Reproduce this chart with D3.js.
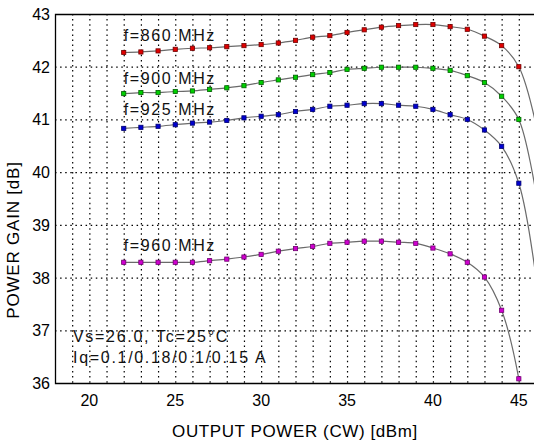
<!DOCTYPE html>
<html>
<head>
<meta charset="utf-8">
<script src="https://cdn.jsdelivr.net/npm/d3@7"></script>
<style>
    body { margin: 0; background: #fff; }
    svg { display: block; font-family: "Liberation Sans", Arial, Helvetica, sans-serif; }
</style>
</head>
<body>
<svg id="chart" width="534" height="443"></svg>
<script>
// output power points [dBm]
const outPower = [22, 23, 24, 25, 26, 27, 28, 29, 30, 31, 32, 33, 34, 35, 36, 37, 38, 39, 40, 41, 42, 43, 44, 45];

const freqLabels = ["f=860 MHz", "f=900 MHz", "f=925 MHz", "f=960 MHz"];

// power gain [dB], one list per frequency
const gain860 = [42.27, 42.28, 42.30, 42.33, 42.35, 42.36, 42.38, 42.40, 42.42, 42.45, 42.50, 42.56,
                 42.59, 42.65, 42.70, 42.75, 42.78, 42.80, 42.80, 42.76, 42.71, 42.58, 42.40, 42.00];
const gain900 = [41.49, 41.51, 41.51, 41.53, 41.54, 41.57, 41.60, 41.64, 41.70, 41.75, 41.80, 41.85,
                 41.89, 41.95, 41.97, 41.99, 41.99, 41.99, 41.97, 41.93, 41.83, 41.70, 41.44, 41.00];
const gain925 = [40.83, 40.85, 40.87, 40.90, 40.93, 40.95, 40.98, 41.03, 41.06, 41.09, 41.15, 41.19,
                 41.25, 41.27, 41.30, 41.30, 41.27, 41.25, 41.19, 41.09, 41.00, 40.80, 40.49, 39.79];
const gain960 = [38.29, 38.29, 38.29, 38.29, 38.29, 38.32, 38.35, 38.39, 38.44, 38.50, 38.55, 38.59,
                 38.65, 38.67, 38.69, 38.69, 38.67, 38.65, 38.56, 38.45, 38.29, 38.01, 37.38, 36.08];

// fitted curve keeps going past the last point, read where it leaves the frame
const tailPower = 46;
const tailGain = [40.9, 39.6, 38.0, 33.5];

const xTicks = [20, 25, 30, 35, 40, 45];
const yTicks = [36, 37, 38, 39, 40, 41, 42, 43];

const markerFill = ["#e00000", "#00d000", "#0000d0", "#d000d0"];
const markerEdge = ["#700000", "#006000", "#000070", "#700070"];

function drawChart() {
    const svg = d3.select("#chart");

    const x = d3.scaleLinear().domain([18, 46]).range([55, 536]);
    const y = d3.scaleLinear().domain([36, 43]).range([383, 14]);

    const series = [gain860, gain900, gain925, gain960].map((g, i) => ({
        label: freqLabels[i],
        pts: outPower.map((p, j) => [p, g[j]]),
        tail: [tailPower, tailGain[i]],
        fill: markerFill[i],
        edge: markerEdge[i]
    }));

    svg.append("clipPath").attr("id", "plotclip")
        .append("rect")
        .attr("x", x(18)).attr("y", y(43))
        .attr("width", x(46) - x(18)).attr("height", y(36) - y(43));

    // dotted grid, one line per dBm and per dB
    const grid = svg.append("g").attr("stroke", "#000").attr("stroke-width", 1.2)
        .attr("stroke-dasharray", "1.5,3.6");

    grid.selectAll(".vg")
        .data(d3.range(19, 46))
        .enter().append("line")
        .attr("x1", d => x(d) + 0.5).attr("x2", d => x(d) + 0.5)
        .attr("y1", y(43)).attr("y2", y(36));

    grid.selectAll(".hg")
        .data(d3.range(37, 43))
        .enter().append("line")
        .attr("x1", x(18)).attr("x2", x(46))
        .attr("y1", d => y(d) + 0.5).attr("y2", d => y(d) + 0.5);

    // frame
    svg.append("path")
        .attr("d", `M${x(46)},${y(43) + 0.5}H${x(18) + 0.5}V${y(36) + 0.5}H${x(46)}`)
        .attr("fill", "none").attr("stroke", "#000").attr("stroke-width", 1.3);

    const line = d3.line()
        .x(d => x(d[0]))
        .y(d => y(d[1]))
        .curve(d3.curveCatmullRom.alpha(0.5));

    const curves = svg.append("g").attr("clip-path", "url(#plotclip)");

    curves.selectAll("path")
        .data(series)
        .enter().append("path")
        .attr("d", d => line(d.pts.concat([d.tail])))
        .attr("fill", "none")
        .attr("stroke", "#6a6a6a")
        .attr("stroke-width", 1.2);

    const sz = 4.2;
    series.forEach(s => {
        curves.append("g").selectAll("rect")
            .data(s.pts)
            .enter().append("rect")
            .attr("x", d => x(d[0]) - sz / 2)
            .attr("y", d => y(d[1]) - sz / 2)
            .attr("width", sz).attr("height", sz)
            .attr("fill", s.fill)
            .attr("stroke", s.edge)
            .attr("stroke-width", 0.8);
    });

    // curve labels sit just above the first point
    const labelDy = [-11, -10, -13, -11];
    svg.append("g").selectAll("text")
        .data(series)
        .enter().append("text")
        .attr("x", d => x(d.pts[0][0]))
        .attr("y", (d, i) => y(d.pts[0][1]) + labelDy[i])
        .attr("font-size", 16)
        .attr("letter-spacing", 1.6)
        .attr("fill", "#111")
        .text(d => d.label);

    // tick labels
    svg.append("g").selectAll("text")
        .data(xTicks)
        .enter().append("text")
        .attr("x", d => x(d))
        .attr("y", 406)
        .attr("text-anchor", "middle")
        .attr("font-size", 16)
        .text(d => d);

    svg.append("g").selectAll("text")
        .data(yTicks)
        .enter().append("text")
        .attr("x", 50)
        .attr("y", d => y(d) + 6)
        .attr("text-anchor", "end")
        .attr("font-size", 16)
        .text(d => d);

    // axis titles
    svg.append("text")
        .attr("x", 295).attr("y", 437)
        .attr("text-anchor", "middle")
        .attr("font-size", 17)
        .attr("letter-spacing", 0.6)
        .text("OUTPUT POWER (CW) [dBm]");

    svg.append("text")
        .attr("transform", "translate(19,240) rotate(-90)")
        .attr("text-anchor", "middle")
        .attr("font-size", 17)
        .attr("letter-spacing", 0.8)
        .text("POWER GAIN [dB]");

    // test conditions
    const notes = svg.append("g").attr("font-size", 16).attr("letter-spacing", 1.7).attr("fill", "#111");
    notes.append("text").attr("x", 73).attr("y", 342).text("Vs=26.0, Tc=25°C");
    notes.append("text").attr("x", 73).attr("y", 363).text("Iq=0.1/0.18/0.1/0.15 A");
}

drawChart();
</script>
</body>
</html>
